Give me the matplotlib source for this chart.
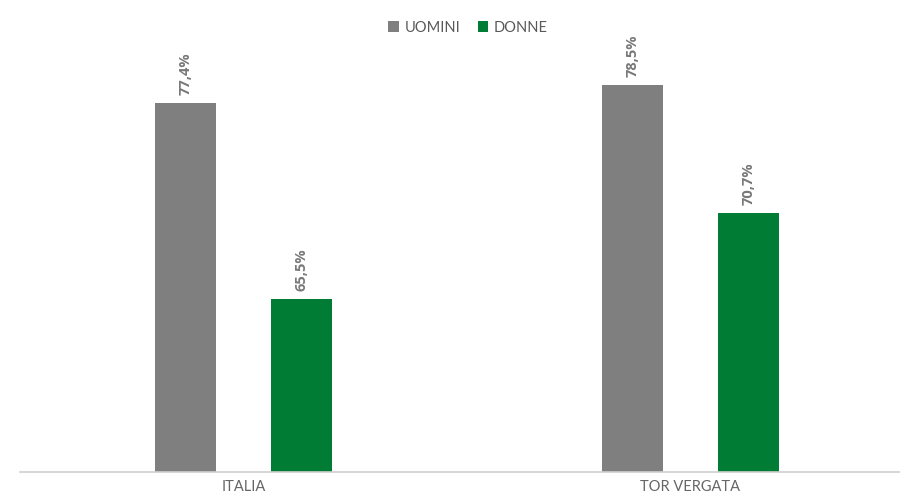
import numpy as np
import matplotlib.pyplot as plt

plt.rcParams['font.family'] = ['Lato', 'DejaVu Sans']

categories = ["ITALIA", "TOR VERGATA"]
series_names = ["UOMINI", "DONNE"]
uomini = [77.4, 78.5]
donne = [65.5, 70.7]
colors = ["#7f7f7f", "#007c34"]

fig = plt.figure(figsize=(9, 4.95), dpi=100)
ax = fig.add_axes([0.0222, 0.0465, 0.9933, 0.832])

x = np.arange(len(categories))
width = 0.137
offset = 0.13

values = [uomini, donne]
for i, (name, vals) in enumerate(zip(series_names, values)):
    pos = x + (i * 2 - 1) * offset
    bars = ax.bar(pos, vals, width, color=colors[i], label=name, zorder=2)
    for b, v in zip(bars, vals):
        ax.annotate(("%.1f%%" % v).replace(".", ","),
                    (b.get_x() + b.get_width() / 2, v),
                    xytext=(0, 6), textcoords="offset points",
                    rotation=90, ha="center", va="bottom",
                    fontsize=10.5, fontweight="bold", color="#787878",
                    family=["Open Sans", "DejaVu Sans"])

ax.set_xlim(-0.5, 1.5)
ax.set_ylim(55, 80)
ax.set_xticks(x)
ax.set_xticklabels(categories, fontsize=10.5, color="#666666")
ax.tick_params(axis="x", length=0, pad=6)
ax.set_yticks([])
for s in ["top", "right", "left"]:
    ax.spines[s].set_visible(False)
ax.spines["bottom"].set_color("#d0d0d0")
ax.spines["bottom"].set_linewidth(1.2)

fig.legend(loc="upper center", bbox_to_anchor=(0.52, 0.985), ncol=2, frameon=False,
           fontsize=10.5, handlelength=0.7, handleheight=0.7, handletextpad=0.4,
           columnspacing=1.2, labelcolor="#595959")

fig.savefig("out.png", dpi=100)
